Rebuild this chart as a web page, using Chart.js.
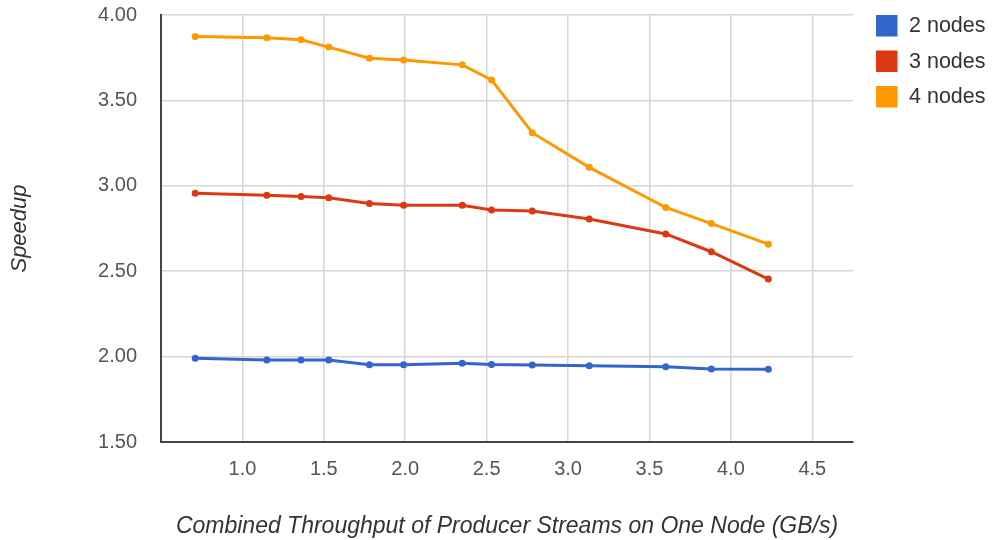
<!DOCTYPE html>
<html>
<head>
<meta charset="utf-8">
<script src="https://cdn.jsdelivr.net/npm/chart.js@4/dist/chart.umd.min.js"></script>
<style>
  html, body { margin: 0; padding: 0; background: #ffffff; }
  #wrap { width: 995px; height: 540px; position: relative; }
</style>
</head>
<body>
<div id="wrap"><canvas id="chart" width="995" height="540"></canvas></div>
<script>
// Combined producer throughput on one node (GB/s)
const throughput = [0.71, 1.15, 1.36, 1.53, 1.78, 1.99, 2.35, 2.53, 2.78, 3.13, 3.60, 3.88, 4.23];

// Speedup per cluster size
const speedup2 = [1.99, 1.98, 1.98, 1.98, 1.953, 1.953, 1.961, 1.954, 1.951, 1.947, 1.94, 1.928, 1.926];
const speedup3 = [2.957, 2.945, 2.937, 2.93, 2.896, 2.886, 2.886, 2.859, 2.853, 2.806, 2.718, 2.614, 2.454];
const speedup4 = [3.874, 3.867, 3.855, 3.812, 3.747, 3.737, 3.708, 3.62, 3.311, 3.108, 2.873, 2.779, 2.658];

const seriesLabels = ['2 nodes', '3 nodes', '4 nodes'];
const seriesColors = ['#3366cc', '#dc3912', '#ff9900'];

const xTicks = [1.0, 1.5, 2.0, 2.5, 3.0, 3.5, 4.0, 4.5];
const yTicks = [1.5, 2.0, 2.5, 3.0, 3.5, 4.0];

const FONT = "'Liberation Sans', Arial, sans-serif";

function toPoints(ys) {
  return throughput.map((x, i) => ({ x: x, y: ys[i] }));
}

const allSeries = [speedup2, speedup3, speedup4];
const datasets = allSeries.map((ys, i) => ({
  label: seriesLabels[i],
  data: toPoints(ys),
  borderColor: seriesColors[i],
  backgroundColor: seriesColors[i],
  borderWidth: 3,
  pointRadius: 3.5,
  pointBorderWidth: 0,
  pointHoverRadius: 3.5,
  tension: 0
}));

// Legend drawn as a column of squares on the right
const sideLegend = {
  id: 'sideLegend',
  afterDraw(chart) {
    const ctx = chart.ctx;
    ctx.save();
    ctx.font = '21.5px ' + FONT;
    ctx.textBaseline = 'middle';
    ctx.textAlign = 'left';
    chart.data.datasets.forEach((ds, i) => {
      const top = 15 + i * 35.5;
      ctx.fillStyle = ds.borderColor;
      ctx.fillRect(876, top, 21.5, 21.5);
      ctx.fillStyle = '#333333';
      ctx.fillText(ds.label, 909, top + 11.5);
    });
    ctx.restore();
  }
};

new Chart(document.getElementById('chart'), {
  type: 'line',
  data: { datasets: datasets },
  plugins: [sideLegend],
  options: {
    responsive: false,
    animation: false,
    devicePixelRatio: 1,
    layout: { padding: { left: 0, right: 142, top: 15, bottom: 0 } },
    plugins: {
      legend: { display: false },
      tooltip: { enabled: false }
    },
    scales: {
      x: {
        type: 'linear',
        min: 0.5,
        max: 4.75,
        afterBuildTicks(scale) {
          scale.ticks = xTicks.map(v => ({ value: v }));
        },
        afterFit(scale) {
          scale.height = 98;
          scale.paddingLeft = 0;
          scale.paddingRight = 0;
        },
        grid: { color: '#d6d6d6', lineWidth: 1.5, drawTicks: false },
        border: { color: '#444444', width: 2 },
        ticks: {
          padding: 15,
          color: '#555555',
          font: { family: FONT, size: 20 },
          callback: v => Number(v).toFixed(1)
        },
        title: {
          display: true,
          text: 'Combined Throughput of Producer Streams on One Node (GB/s)',
          color: '#333333',
          font: { family: FONT, size: 23, style: 'italic' },
          padding: { top: 0, bottom: 0 }
        }
      },
      y: {
        type: 'linear',
        min: 1.5,
        max: 4.0,
        afterBuildTicks(scale) {
          scale.ticks = yTicks.map(v => ({ value: v }));
        },
        afterFit(scale) {
          scale.width = 161;
          scale.paddingTop = 0;
          scale.paddingBottom = 0;
        },
        grid: { color: '#d6d6d6', lineWidth: 1.5, drawTicks: false },
        border: { color: '#444444', width: 2 },
        ticks: {
          padding: 24,
          color: '#555555',
          font: { family: FONT, size: 20 },
          callback: v => Number(v).toFixed(2)
        },
        title: {
          display: true,
          text: 'Speedup',
          color: '#333333',
          font: { family: FONT, size: 22, style: 'italic' },
          padding: { top: 7, bottom: 0 }
        }
      }
    }
  }
});
</script>
</body>
</html>
